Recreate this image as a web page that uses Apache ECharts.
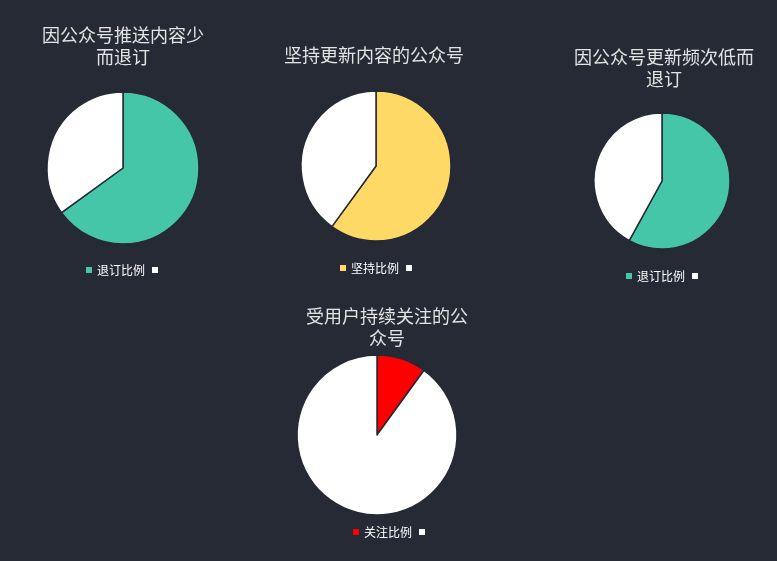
<!DOCTYPE html>
<html>
<head>
<meta charset="utf-8">
<script src="https://cdn.jsdelivr.net/npm/echarts@6/dist/echarts.min.js"></script>
<style>
  html, body { margin: 0; padding: 0; background: #252a35; }
  #chart { width: 777px; height: 561px; }
</style>
</head>
<body>
<div id="chart"></div>
<script>
// 四个饼图的数据
const pieTitles = ['因公众号推送内容少\n而退订', '坚持更新内容的公众号', '因公众号更新频次低而\n退订', '受用户持续关注的公\n众号'];
const mainNames = ['退订比例', '坚持比例', '退订比例', '关注比例'];
const mainValues = [65, 60, 58, 10];
const restValues = [35, 40, 42, 90];
const mainColors = ['#45c6a9', '#ffd966', '#45c6a9', '#ff0000'];

const REST_NAME = '其余';
const FONT = '"Noto Sans CJK SC", "Noto Sans", sans-serif';

// 每个饼图的位置
const layout = [
    { cx: 123, cy: 168, r: 76, titleX: 123, titleY: 24, legendX: 86, legendY: 264 },
    { cx: 376, cy: 166, r: 75, titleX: 374, titleY: 44, legendX: 340, legendY: 262 },
    { cx: 662, cy: 181, r: 68, titleX: 664, titleY: 46, legendX: 626, legendY: 270 },
    { cx: 377, cy: 435, r: 80, titleX: 387, titleY: 305, legendX: 353, legendY: 526 }
];

const chart = echarts.init(document.getElementById('chart'));

const titles = [];
const legends = [];
const series = [];

layout.forEach((p, i) => {
    titles.push({
        text: pieTitles[i],
        left: p.titleX,
        top: p.titleY,
        textAlign: 'center',
        padding: 0,
        textStyle: { color: '#e3e3e3', fontSize: 18, fontWeight: 'normal', lineHeight: 22, fontFamily: FONT }
    });
    legends.push({
        left: p.legendX,
        top: p.legendY,
        padding: 0,
        itemWidth: 6,
        itemHeight: 6,
        itemGap: 7,
        icon: 'rect',
        itemStyle: { borderWidth: 0 },
        data: [mainNames[i], REST_NAME],
        selectedMode: false,
        formatter: name => name === REST_NAME ? '' : name,
        textStyle: { color: '#ffffff', fontSize: 12, fontFamily: FONT }
    });
    series.push({
        type: 'pie',
        center: [p.cx, p.cy],
        radius: p.r,
        startAngle: 90,
        clockwise: true,
        label: { show: false },
        labelLine: { show: false },
        emphasis: { disabled: true },
        itemStyle: { borderColor: '#252a35', borderWidth: 1.5 },
        data: [
            { name: mainNames[i], value: mainValues[i], itemStyle: { color: mainColors[i] } },
            { name: REST_NAME, value: restValues[i], itemStyle: { color: '#ffffff' } }
        ]
    });
});

chart.setOption({
    backgroundColor: '#252a35',
    animation: false,
    title: titles,
    legend: legends,
    series: series
});
</script>
</body>
</html>
